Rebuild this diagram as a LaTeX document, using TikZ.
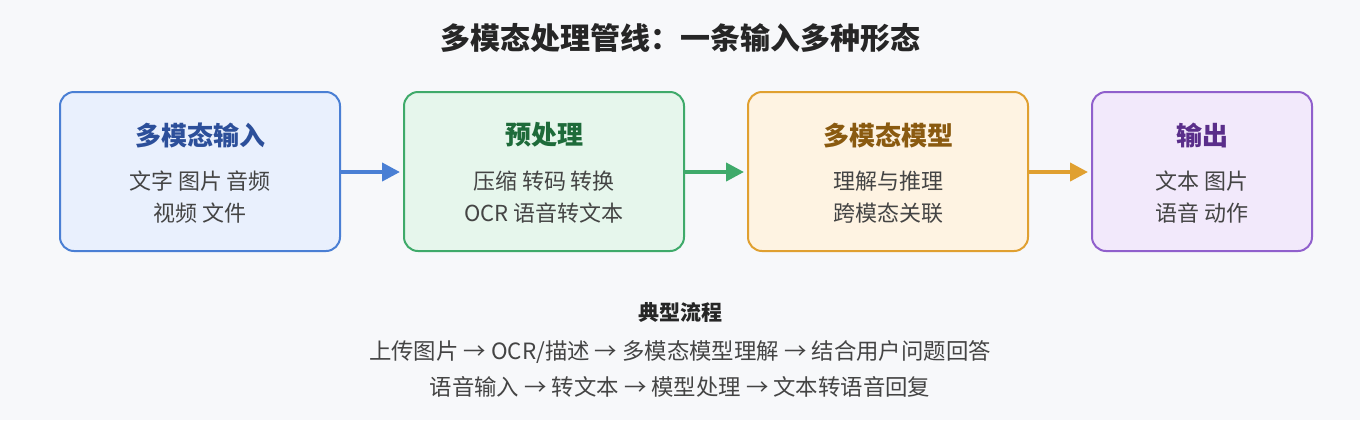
\documentclass[tikz,border=0pt]{standalone}
\usepackage{fontspec}
\setmainfont{Noto Sans CJK SC}
\usetikzlibrary{arrows.meta}
\definecolor{bg}{HTML}{F7F8FA}
\definecolor{bB}{HTML}{4A7FD4}\definecolor{fB}{HTML}{E9F0FD}\definecolor{tB}{HTML}{2C4F9A}
\definecolor{bG}{HTML}{3FAA6A}\definecolor{fG}{HTML}{E6F6EC}\definecolor{tG}{HTML}{1E6B3A}
\definecolor{bO}{HTML}{E0A030}\definecolor{fO}{HTML}{FEF3E2}\definecolor{tO}{HTML}{8A5A10}
\definecolor{bP}{HTML}{9060CC}\definecolor{fP}{HTML}{F2E9FB}\definecolor{tP}{HTML}{5A2E8A}
\definecolor{txt}{HTML}{444444}
\begin{document}
\begin{tikzpicture}[x=0.5pt,y=-0.5pt,
 box/.style={draw=#1,line width=1pt,rounded corners=7pt,anchor=north west},
 ttl/.style={font=\fontsize{13}{15}\selectfont\bfseries},
 body/.style={font=\fontsize{11}{16}\selectfont,text=txt,align=center},
 arr/.style={line width=2pt,-{Triangle[length=9pt,width=9pt]}}]
\fill[bg] (0,0) rectangle (1360,420);
\node[font=\fontsize{15}{17}\selectfont\bfseries,text=black!85] (title) at (680,38) {多模态处理管线：一条输入多种形态};
\draw[box=bB,fill=fB] (60,92) rectangle (340,251);
\draw[box=bG,fill=fG] (404,92) rectangle (684,251);
\draw[box=bO,fill=fO] (748,92) rectangle (1028,251);
\draw[box=bP,fill=fP] (1092,92) rectangle (1312,251);
\node[ttl,text=tB] (t1) at (200,135) {多模态输入};
\node[body] (d1) at (200,197) {文字 图片 音频\\视频 文件};
\node[ttl,text=tG] (t2) at (544,135) {预处理};
\node[body] (d2) at (544,197) {压缩 转码 转换\\OCR 语音转文本};
\node[ttl,text=tO] (t3) at (888,135) {多模态模型};
\node[body] (d3) at (888,197) {理解与推理\\跨模态关联};
\node[ttl,text=tP] (t4) at (1202,135) {输出};
\node[body] (d4) at (1202,197) {文本 图片\\语音 动作};
\coordinate (a1s) at (341,172);\coordinate (a1e) at (400,172);
\coordinate (a2s) at (685,172);\coordinate (a2e) at (744,172);
\coordinate (a3s) at (1029,172);\coordinate (a3e) at (1088,172);
\draw[arr,bB] (a1s) -- (a1e);
\draw[arr,bG] (a2s) -- (a2e);
\draw[arr,bO] (a3s) -- (a3e);
\node[font=\fontsize{10.5}{12}\selectfont\bfseries,text=black!85] (ft) at (680,312) {典型流程};
\node[font=\fontsize{11.2}{13}\selectfont,text=txt] (f1) at (680,352) {上传图片 → OCR/描述 → 多模态模型理解 → 结合用户问题回答};
\node[font=\fontsize{11.2}{13}\selectfont,text=txt] (f2) at (680,387) {语音输入 → 转文本 → 模型处理 → 文本转语音回复};
\end{tikzpicture}
\end{document}
